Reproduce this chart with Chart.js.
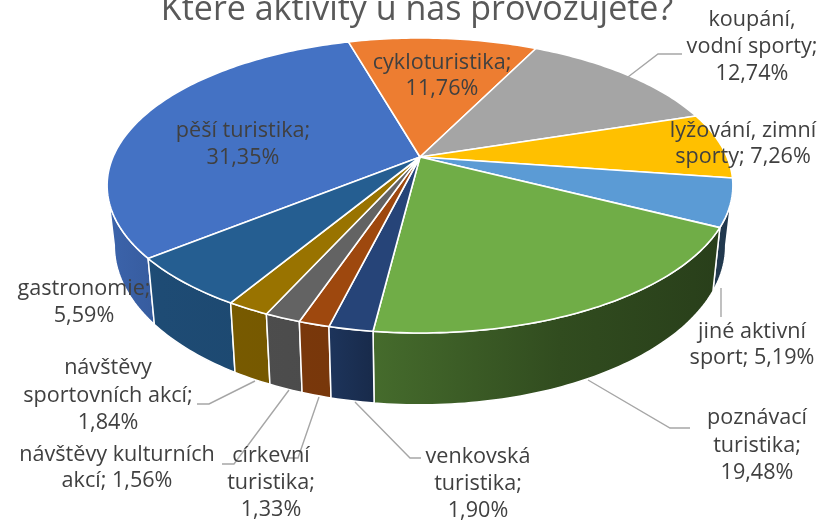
<!DOCTYPE html>
<html lang="cs"><head><meta charset="utf-8">
<style>html,body{margin:0;padding:0;background:#fff}canvas{display:block}</style>
<script src="https://cdn.jsdelivr.net/npm/chart.js@4"></script>
</head><body><canvas id="c" width="820" height="521"></canvas>
<script>
const chartTitle = "Které aktivity u nás provozujete?";
const categories = ["pěší turistika","cykloturistika","koupání, vodní sporty","lyžování, zimní sporty","jiné aktivní sport","poznávací turistika","venkovská turistika","církevní turistika","návštěvy kulturních akcí","návštěvy sportovních akcí","gastronomie"];
const values = [31.35,11.76,12.74,7.26,5.19,19.48,1.90,1.33,1.56,1.84,5.59];
const colors = ["#4472C4","#ED7D31","#A5A5A5","#FFC000","#5B9BD5","#70AD47","#264478","#9E480E","#636363","#997300","#255E91"];
const labelLines = [
  ["pěší turistika;","31,35%"],["cykloturistika;","11,76%"],["koupání,","vodní sporty;","12,74%"],
  ["lyžování, zimní","sporty; 7,26%"],["jiné aktivní","sport; 5,19%"],["poznávací","turistika;","19,48%"],
  ["venkovská","turistika;","1,90%"],["církevní","turistika;","1,33%"],["návštěvy kulturních","akcí; 1,56%"],
  ["návštěvy","sportovních akcí;","1,84%"],["gastronomie;","5,59%"]];
// label anchor: centre x, centre y of first line, line step
const labelPos = [[243,131,27],[442,63,26],[752,20,27],[743,131,26],[752,332,26],[757,418,27.5],[478,457,27],[271,456,27],[117,455,26],[108,368,27.5],[84,289,27]];
const leaders = [null,null,[[628,77],[658,54],[682,54]],null,[[721,288],[721,317]],[[588,380],[670,428],[690,428]],
  [[355,402],[410,458],[421,458]],[[319,397],[298,458],[288,458]],[[289,390],[234,464],[222,464]],[[255,381],[209,404],[197,404]],null];

const FONT = '"Open Sans", sans-serif';
const CX=420, CY=157, A=307, B=142, K=0.193, DEPTH=58, BOTTOM_X=0.977;
const VIS_FROM=101, VIS_TO=259;
const shadeStops=[[105,.88],[160,.8],[330,.76],[375,.62],[560,.44],[730,.36]];
function project(deg, bottom){
  const t=deg*Math.PI/180, u=Math.sin(t), v=-Math.cos(t), w=1-K*v;
  let x=CX+A*u/w, y=CY+B*v/w;
  if(bottom){x=CX+(x-CX)*BOTTOM_X; y+=DEPTH/w;}
  return [x,y];
}
function shade(hex,f){
  const n=parseInt(hex.slice(1),16);
  return `rgb(${Math.round((n>>16&255)*f)},${Math.round((n>>8&255)*f)},${Math.round((n&255)*f)})`;
}
const pie3d={
  id:'pie3d',
  beforeDatasetDraw(chart,args){
    const ctx=chart.ctx, arcs=chart.getDatasetMeta(args.index).data;
    const slices=arcs.map((a,i)=>{
      let s=(a.startAngle+Math.PI/2)*180/Math.PI, e=(a.endAngle+Math.PI/2)*180/Math.PI;
      while(s>=360){s-=360;e-=360;}
      while(s<0){s+=360;e+=360;}
      return {s,e,color:colors[i]};
    });
    ctx.save();
    ctx.lineJoin='round';
    ctx.strokeStyle='#fff';
    const sides=slices.filter(o=>o.e>VIS_FROM&&o.s<VIS_TO)
      .sort((p,q)=>Math.abs((q.s+q.e)/2-180)-Math.abs((p.s+p.e)/2-180));
    sides.forEach(o=>{
      const s=Math.max(o.s,VIS_FROM), e=Math.min(o.e,VIS_TO);
      ctx.beginPath();
      for(let d=s;d<e;d+=1){const p=project(d,false);ctx.lineTo(p[0],p[1]);}
      let p=project(e,false);ctx.lineTo(p[0],p[1]);
      for(let d=e;d>s;d-=1){p=project(d,true);ctx.lineTo(p[0],p[1]);}
      p=project(s,true);ctx.lineTo(p[0],p[1]);
      ctx.closePath();
      const g=ctx.createLinearGradient(105,0,730,0);
      shadeStops.forEach(st=>g.addColorStop((st[0]-105)/625,shade(o.color,st[1])));
      ctx.fillStyle=g;ctx.fill();
      ctx.lineWidth=1.5;ctx.stroke();
    });
    slices.forEach(o=>{
      ctx.beginPath();ctx.moveTo(CX,CY);
      for(let d=o.s;d<o.e;d+=1){const p=project(d,false);ctx.lineTo(p[0],p[1]);}
      const p=project(o.e,false);ctx.lineTo(p[0],p[1]);
      ctx.closePath();
      ctx.fillStyle=o.color;ctx.fill();
      ctx.lineWidth=1.6;ctx.stroke();
    });
    ctx.restore();
    return false;
  },
  afterDraw(chart){
    const ctx=chart.ctx;
    ctx.save();
    ctx.strokeStyle='#A6A6A6';ctx.lineWidth=1.4;
    leaders.forEach(l=>{ if(!l)return;
      ctx.beginPath();l.forEach(p=>ctx.lineTo(p[0],p[1]));ctx.stroke();});
    ctx.fillStyle='#404040';ctx.textAlign='center';ctx.textBaseline='middle';
    ctx.font='21.6px '+FONT;
    labelLines.forEach((lines,i)=>{
      const [x,y,st]=labelPos[i];
      lines.forEach((t,j)=>ctx.fillText(t,x,y+j*st));
    });
    ctx.fillStyle='#595959';ctx.textBaseline='alphabetic';
    ctx.font='34px '+FONT;
    ctx.fillText(chartTitle,417,20);
    ctx.restore();
  }
};
new Chart(document.getElementById('c'),{
  type:'pie',
  data:{labels:categories,datasets:[{data:values,backgroundColor:colors,borderColor:'#fff'}]},
  options:{responsive:false,animation:false,rotation:231.1,
    plugins:{legend:{display:false},tooltip:{enabled:false}}},
  plugins:[pie3d]
});
</script></body></html>
